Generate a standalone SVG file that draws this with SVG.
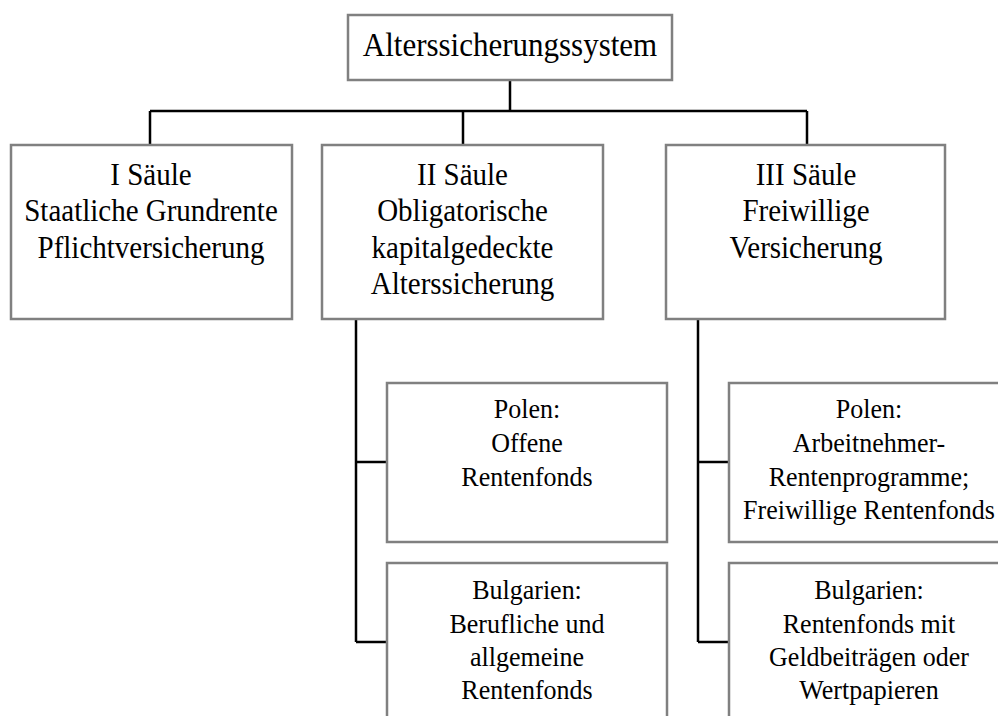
<svg xmlns="http://www.w3.org/2000/svg" width="998" height="716" viewBox="0 0 998 716">
<style>
.box{fill:#fff;stroke:#808080;stroke-width:2.5}
.conn{fill:none;stroke:#000;stroke-width:2.5}
text{font-family:"Liberation Serif","Times New Roman",serif;fill:#000;text-anchor:middle}
.t0{font-size:31px}
.t1{font-size:29px}
.t2{font-size:26px}
</style>
<rect width="998" height="716" fill="#fff"/>
<g id="connectors">
<path class="conn" d="M510 80V111M150 111H807M150 111V145M463 111V145M807 111V145"/>
<path class="conn" d="M356 319V642M356 462H387M356 642H387"/>
<path class="conn" d="M698 320V642M698 462H729M698 642H729"/>
</g>
<g id="root">
<rect class="box" x="348" y="15" width="324" height="65"/>
<text class="t0" transform="translate(510,56) scale(1,1.07)" x="0" y="0">Alterssicherungssystem</text>
</g>
<g id="saeule1">
<rect class="box" x="11" y="145" width="281" height="174"/>
<text class="t1" transform="translate(151,185) scale(1,1.07)"><tspan x="0" y="0">I Säule</tspan><tspan x="0" y="34.1">Staatliche Grundrente</tspan><tspan x="0" y="68.2">Pflichtversicherung</tspan></text>
</g>
<g id="saeule2">
<rect class="box" x="322" y="145" width="281" height="174"/>
<text class="t1" transform="translate(462.5,185) scale(1,1.07)"><tspan x="0" y="0">II Säule</tspan><tspan x="0" y="34.1">Obligatorische</tspan><tspan x="0" y="68.2">kapitalgedeckte</tspan><tspan x="0" y="102.3">Alterssicherung</tspan></text>
</g>
<g id="saeule3">
<rect class="box" x="666" y="145" width="279" height="174"/>
<text class="t1" transform="translate(806,185) scale(1,1.07)"><tspan x="0" y="0">III Säule</tspan><tspan x="0" y="34.1">Freiwillige</tspan><tspan x="0" y="68.2">Versicherung</tspan></text>
</g>
<g id="polen2">
<rect class="box" x="387" y="383" width="280" height="159"/>
<text class="t2" transform="translate(527,418) scale(1,1.07)"><tspan x="0" y="0">Polen:</tspan><tspan x="0" y="31.8">Offene</tspan><tspan x="0" y="63.6">Rentenfonds</tspan></text>
</g>
<g id="bulgarien2">
<rect class="box" x="387" y="563" width="280" height="170"/>
<text class="t2" transform="translate(527,599) scale(1,1.07)"><tspan x="0" y="0">Bulgarien:</tspan><tspan x="0" y="31.8">Berufliche und</tspan><tspan x="0" y="62.6">allgemeine</tspan><tspan x="0" y="93.5">Rentenfonds</tspan></text>
</g>
<g id="polen3">
<rect class="box" x="729" y="383" width="280" height="159"/>
<text class="t2" transform="translate(869,418) scale(1,1.07)"><tspan x="0" y="0">Polen:</tspan><tspan x="0" y="31.8">Arbeitnehmer-</tspan><tspan x="0" y="63.6">Rentenprogramme;</tspan><tspan x="0" y="94.4">Freiwillige Rentenfonds</tspan></text>
</g>
<g id="bulgarien3">
<rect class="box" x="729" y="563" width="280" height="170"/>
<text class="t2" transform="translate(869,599) scale(1,1.07)"><tspan x="0" y="0">Bulgarien:</tspan><tspan x="0" y="31.8">Rentenfonds mit</tspan><tspan x="0" y="62.6">Geldbeiträgen oder</tspan><tspan x="0" y="93.5">Wertpapieren</tspan></text>
</g>
</svg>
